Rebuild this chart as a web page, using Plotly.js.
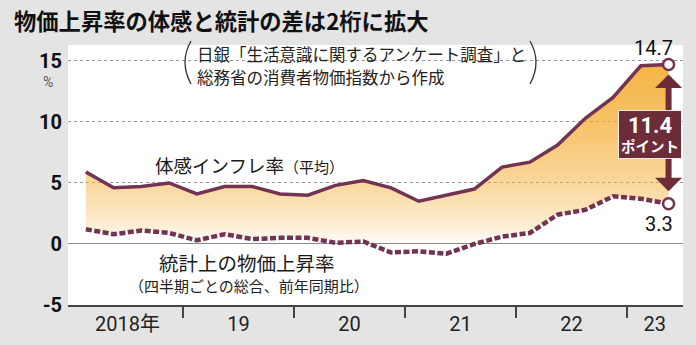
<!DOCTYPE html>
<html><head><meta charset="utf-8">
<script src="https://cdn.plot.ly/plotly-3.0.1.min.js"></script>
<style>html,body{margin:0;padding:0;background:#e4e4e4;}#chart{width:696px;height:345px;}</style>
</head><body><div id="chart"></div>
<script>
// ---- data ----
const quarters = ['2018Q1','2018Q2','2018Q3','2018Q4','2019Q1','2019Q2','2019Q3','2019Q4',
  '2020Q1','2020Q2','2020Q3','2020Q4','2021Q1','2021Q2','2021Q3','2021Q4',
  '2022Q1','2022Q2','2022Q3','2022Q4','2023Q1','2023Q2'];
const perceived = [5.9,4.6,4.7,5.0, 4.1,4.7,4.7,4.1, 4.0,4.8,5.2,4.6, 3.5,4.0,4.5,6.3, 6.7,8.1,10.3,12.0, 14.6,14.7];
const official  = [1.2,0.8,1.1,0.9, 0.3,0.8,0.4,0.5, 0.5,0.1,0.2,-0.7, -0.6,-0.8,0.0,0.6, 0.9,2.4,2.8,3.9, 3.7,3.3];
const years = [2018,2019,2020,2021,2022,2023];
const yearLabels = ['2018年','19','20','21','22','23'];
const yTicks = [-5,0,5,10,15];
const yTickLabels = ['-5','0','5','10','15'];

const titleText = '物価上昇率の体感と統計の差は2桁に拡大';
const noteLine1 = '日銀「生活意識に関するアンケート調査」と';
const noteLine2 = '総務省の消費者物価指数から作成';
const perceivedLabel = '体感インフレ率';
const perceivedSub = '（平均）';
const officialLabel = '統計上の物価上昇率';
const officialSub = '（四半期ごとの総合、前年同期比）';
const unitLabel = '%';

// ---- helpers ----
function qpos(q){ const y = +q.slice(0,4), n = +q.slice(5); return y + (n - 0.5) / 4; }
const xs = quarters.map(qpos);
const last = xs.length - 1;
const xLast = xs[last], pLast = perceived[last], oLast = official[last];
const gap = (pLast - oLast).toFixed(1);
// label centre of each year over the span that is shown (last year is partial)
const quartersShown = years.map(y => quarters.filter(q => +q.slice(0,4) === y).length);
const yearCentres = years.map((y, i) => y + Math.max(quartersShown[i], 2) / 8);

const LINE = '#733352';
const BOX = '#6c2c38';
const CJK = "'Noto Sans CJK JP', sans-serif";
const NUM = "Roboto, 'Noto Sans CJK JP', sans-serif";

const traces = [
  { x: xs, y: official, mode: 'lines', type: 'scatter',
    line: { color: LINE, width: 4.5, dash: '6px,2.5px' }, hoverinfo: 'skip' },
  { x: xs, y: perceived, mode: 'lines', type: 'scatter', fill: 'tonexty',
    fillgradient: { type: 'vertical', start: 0, stop: 15,
      colorscale: [[0,'rgba(244,170,45,0.03)'],[0.133,'rgba(244,170,45,0.25)'],
                   [0.333,'rgba(244,170,45,0.47)'],[0.667,'rgba(244,170,45,0.72)'],
                   [1,'rgba(244,170,45,0.9)']] },
    line: { color: LINE, width: 3.5 }, hoverinfo: 'skip' },
  { x: [xLast, xLast], y: [pLast, oLast], mode: 'markers', type: 'scatter',
    marker: { size: 11, color: '#fff', line: { color: LINE, width: 2.5 } }, hoverinfo: 'skip' }
];

const W = 615, H = 260, L = 68, T = 45;
const px = X => (X - L) / W;
const py = Y => (T + H - Y) / H;

const layout = {
  width: 696, height: 345,
  margin: { l: 68, r: 13, t: 45, b: 40, pad: 0 },
  paper_bgcolor: '#e4e4e4', plot_bgcolor: '#ffffff',
  showlegend: false, hovermode: false,
  title: { text: titleText, xref: 'container', yref: 'container', x: 14/696, xanchor: 'left',
           y: 1 - 22/345, yanchor: 'middle',
           font: { family: CJK, size: 22.3, weight: 'bold', color: '#111' } },
  xaxis: {
    range: [2017.964, 2023.505], fixedrange: true,
    tickmode: 'array', tickvals: yearCentres, ticktext: yearLabels,
    ticks: '', showgrid: false, zeroline: false,
    showline: true, linecolor: '#444', linewidth: 1.5,
    tickfont: { family: NUM, size: 20, color: '#222' },
    minor: { tickmode: 'array', tickvals: years.slice(1), ticks: 'outside', ticklen: 11,
             tickwidth: 1.3, tickcolor: '#444', showgrid: false }
  },
  yaxis: {
    range: [-5, 16.3], fixedrange: true,
    tickmode: 'array', tickvals: yTicks, ticktext: yTickLabels, ticks: '',
    showgrid: true, gridcolor: '#9a9a9a', gridwidth: 1, griddash: '3px,3px',
    zeroline: true, zerolinecolor: '#8a8a8a', zerolinewidth: 1,
    showline: false, ticklabelstandoff: 5,
    tickfont: { family: NUM, size: 20, weight: 'bold', color: '#111' }
  },
  shapes: [
    { type: 'rect', xref: 'paper', yref: 'paper', x0: px(173), x1: px(548), y0: py(90), y1: py(45),
      fillcolor: '#fff', line: { width: 0 }, layer: 'between' },
    { type: 'path', xref: 'paper', yref: 'paper',
      path: `M${px(191)},${py(41)} Q${px(179)},${py(62)} ${px(191)},${py(84)}`,
      line: { color: '#333', width: 1.3 } },
    { type: 'path', xref: 'paper', yref: 'paper',
      path: `M${px(530)},${py(41)} Q${px(542)},${py(62)} ${px(530)},${py(84)}`,
      line: { color: '#333', width: 1.3 } }
  ],
  annotations: [
    { xref: 'paper', yref: 'paper', x: px(195), y: py(54.5), xanchor: 'left', yanchor: 'middle',
      showarrow: false, text: noteLine1,
      font: { family: CJK, size: 16.5, color: '#222' } },
    { xref: 'paper', yref: 'paper', x: px(195), y: py(76.5), xanchor: 'left', yanchor: 'middle',
      showarrow: false, text: noteLine2,
      font: { family: CJK, size: 16.5, color: '#222' } },
    { xref: 'paper', yref: 'paper', x: px(153), y: py(165), xanchor: 'left', yanchor: 'middle',
      showarrow: false,
      text: perceivedLabel + '<span style="font-size:15px">' + perceivedSub + '</span>',
      font: { family: CJK, size: 18.5, color: '#1a1a1a' } },
    { xref: 'paper', yref: 'paper', x: px(157), y: py(262), xanchor: 'left', yanchor: 'middle',
      showarrow: false, text: officialLabel,
      font: { family: CJK, size: 19.5, color: '#1a1a1a' } },
    { xref: 'paper', yref: 'paper', x: px(127), y: py(285), xanchor: 'left', yanchor: 'middle',
      showarrow: false, text: officialSub,
      font: { family: CJK, size: 15, color: '#222' } },
    { xref: 'paper', yref: 'paper', x: px(48), y: py(82), xanchor: 'center', yanchor: 'middle',
      showarrow: false, text: unitLabel,
      font: { family: NUM, size: 14, color: '#555' } },
    { x: xLast, y: pLast, xshift: -15, yshift: 17, showarrow: false, text: String(pLast),
      font: { family: NUM, size: 20, color: '#111' } },
    { x: xLast, y: oLast, xshift: -10, yshift: -20, showarrow: false, text: String(oLast),
      font: { family: NUM, size: 20, color: '#111' } },
    { x: xLast, y: pLast, ax: xLast, ay: oLast, axref: 'x', ayref: 'y', text: '',
      showarrow: true, arrowside: 'end+start', arrowhead: 1, startarrowhead: 1,
      arrowsize: 0.75, startarrowsize: 0.75, arrowwidth: 6, arrowcolor: BOX,
      standoff: 10, startstandoff: 11 },
    { x: xLast, y: (pLast + oLast) / 2, xshift: -19, showarrow: false,
      text: '<b><span style="font-size:22px">' + gap + '</span><br>ポイント</b>',
      font: { family: NUM, size: 14.5, color: '#fff' },
      bgcolor: BOX, bordercolor: 'rgba(255,255,255,0.85)', borderwidth: 1, borderpad: 2 }
  ]
};

Plotly.newPlot('chart', traces, layout, { displayModeBar: false, staticPlot: true });
</script>
</body></html>
